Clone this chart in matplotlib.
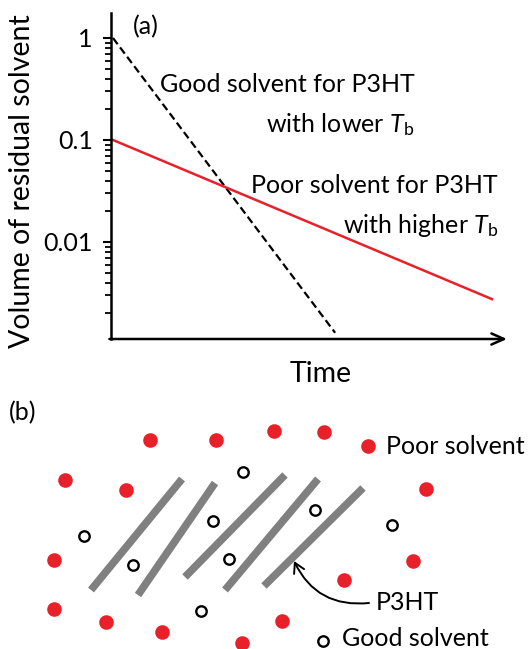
import numpy as np
import matplotlib
matplotlib.use("Agg")
import matplotlib.pyplot as plt
from matplotlib.ticker import LogLocator, FixedLocator, NullFormatter

plt.rcParams['font.family'] = ['Lato', 'DejaVu Sans']
plt.rcParams['mathtext.fontset'] = 'custom'
plt.rcParams['mathtext.rm'] = 'Lato'
plt.rcParams['mathtext.it'] = 'Lato:italic'

# panel (a): residual solvent vs time (time in axis fraction, volume on log scale)
good_t = [0.005, 0.566]
good_v = [1.0, 10 ** -2.89]
poor_t = [0.005, 0.962]
poor_v = [0.1, 10 ** -2.56]
y_ticks = [1, 0.1, 0.01]
y_ticklabels = ["1", "0.1", "0.01"]

# panel (b): schematic, positions in pixels of the original picture
poor_x = [150, 216, 274, 324, 65, 126, 426, 54, 413, 344, 54, 106, 162, 242, 282]
poor_y = [440, 440, 431, 432, 480, 490, 489, 560, 561, 580, 609, 622, 632, 643, 621]
good_x = [84, 133, 243, 213, 229, 315, 392, 201]
good_y = [536, 565, 472, 521, 559, 510, 525, 611]
chain_x0 = [91, 138, 185, 225, 264]
chain_y0 = [590, 595, 577, 590, 586]
chain_x1 = [182, 215, 285, 318, 363]
chain_y1 = [479, 483, 475, 479, 488]

W, H = 529, 649
fig = plt.figure(figsize=(W / 100, H / 100), dpi=100)

RED = '#e8202a'
FS = 18

# ---- panel (a)
left, right, top, bottom = 111, 507, 13, 339
ax = fig.add_axes([left / W, 1 - bottom / H, (right - left) / W, (bottom - top) / H])
ax.set_yscale('log')
ax.set_xlim(0, 1)
ax.set_ylim(10 ** -2.951, 10 ** 0.245)
ax.plot(good_t, good_v, color='black', lw=1.6, ls=(0, (3.5, 1.8)))
ax.plot(poor_t, poor_v, color=RED, lw=1.8)

for s in ['top', 'right', 'bottom']:
    ax.spines[s].set_visible(False)
ax.spines['left'].set_linewidth(1.8)
ax.set_xticks([])
ax.yaxis.set_major_locator(FixedLocator(y_ticks))
ax.set_yticklabels(y_ticklabels)
ax.yaxis.set_minor_locator(LogLocator(base=10, subs=np.arange(2, 10), numticks=20))
ax.yaxis.set_minor_formatter(NullFormatter())
ax.tick_params(axis='y', which='major', length=6, width=1.5, labelsize=FS, pad=7)
ax.tick_params(axis='y', which='minor', length=4, width=1.3)
ax.annotate('', xy=(1.0, 0), xytext=(-0.004, 0), xycoords='axes fraction',
            arrowprops=dict(arrowstyle='->,head_length=0.9,head_width=0.4', lw=1.8,
                            color='black', shrinkA=0, shrinkB=0), annotation_clip=False)

ax.text(0.056, 10 ** 0.108, '(a)', fontsize=FS, va='center', ha='left')
ax.text(0.766, 10 ** -0.53, 'Good solvent for P3HT', fontsize=FS, ha='right', va='baseline')
ax.text(0.766, 10 ** -0.92, r'with lower $T_\mathrm{b}$', fontsize=FS, ha='right', va='baseline')
ax.text(0.977, 10 ** -1.52, 'Poor solvent for P3HT', fontsize=FS, ha='right', va='baseline')
ax.text(0.977, 10 ** -1.91, r'with higher $T_\mathrm{b}$', fontsize=FS, ha='right', va='baseline')

fig.text(321 / W, 1 - 374 / H, 'Time', fontsize=20.5, ha='center', va='center')
fig.text(22 / W, 1 - 181 / H, 'Volume of residual solvent', fontsize=20.5,
         rotation=90, ha='center', va='center')

# ---- panel (b)
bx = fig.add_axes([0, 0, 1, 1])
bx.set_xlim(0, W)
bx.set_ylim(H, 0)
bx.axis('off')
bx.patch.set_alpha(0)

for x0, y0, x1, y1 in zip(chain_x0, chain_y0, chain_x1, chain_y1):
    bx.plot([x0, x1], [y0, y1], color='#808080', lw=5.5, solid_capstyle='butt')
bx.plot(poor_x, poor_y, 'o', color=RED, ms=10.5, mec='none')
bx.plot(good_x, good_y, 'o', mfc='white', mec='black', mew=1.7, ms=7.5)

# legend-like keys
bx.plot([368], [446], 'o', color=RED, ms=10.5, mec='none')
bx.text(386, 447, 'Poor solvent', fontsize=FS, va='center', ha='left')
bx.plot([323], [641], 'o', mfc='white', mec='black', mew=1.7, ms=7.5)
bx.text(342, 639, 'Good solvent', fontsize=FS, va='center', ha='left')
bx.text(376, 602, 'P3HT', fontsize=FS, va='center', ha='left')
bx.annotate('', xy=(294, 561), xytext=(369, 603),
            arrowprops=dict(arrowstyle='->,head_length=0.7,head_width=0.4', lw=1.4,
                            color='black', connectionstyle='arc3,rad=-0.35',
                            shrinkA=0, shrinkB=0))
bx.text(9, 413, '(b)', fontsize=FS, va='center', ha='left')

fig.savefig('out.png', dpi=100)
